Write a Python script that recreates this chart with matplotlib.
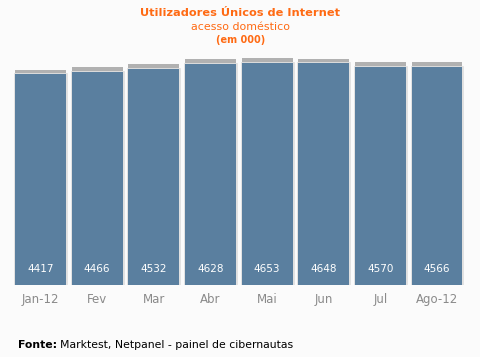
import matplotlib
matplotlib.use('Agg')
from matplotlib import pyplot as plt
from matplotlib import patheffects as pe

# Data
months = ['Jan-12', 'Fev', 'Mar', 'Abr', 'Mai', 'Jun', 'Jul', 'Ago-12']
users = [4417, 4466, 4532, 4628, 4653, 4648, 4570, 4566]

bg = '#fbfbfb'
bar_color = '#5a7f9f'
orange = '#ff6a13'

plt.rcParams['font.family'] = ['DejaVu Sans']

fig = plt.figure(figsize=(4.81, 3.57), dpi=100, facecolor=bg)
ax = fig.add_axes([0.0254, 0.2017, 0.942, 0.669])
ax.set_facecolor(bg)

x = list(range(len(months)))
bars = ax.bar(x, users, width=0.9, color=bar_color, zorder=3)

# Soft gray shadow around the bars
for b in bars:
    b.set_path_effects([
        pe.SimplePatchShadow(offset=(0, 3.2), shadow_rgbFace='#a4a4a4', alpha=0.85),
        pe.Stroke(linewidth=2, foreground='#e0e0e0'),
        pe.Normal(),
    ])

# Values at the bottom of the bars
for xi, v in zip(x, users):
    ax.annotate(str(v), xy=(xi, 0), xytext=(0, 8), textcoords='offset points',
                ha='center', va='bottom', color='white', fontsize=7.5, zorder=4)

ax.set_xlim(-0.5, len(months) - 0.5)
ax.set_ylim(0, 5000)
ax.set_xticks(x)
ax.set_xticklabels(months, fontsize=8.5, color='#8a8a8a')
ax.tick_params(axis='x', length=0, pad=6)
ax.set_yticks([])
for s in ax.spines.values():
    s.set_visible(False)

# Titles
fig.text(0.5, 1 - 13 / 357, 'Utilizadores Únicos de Internet', ha='center', va='center',
         fontsize=8.2, fontweight='bold', color=orange)
fig.text(0.5, 1 - 27 / 357, 'acesso doméstico', ha='center', va='center',
         fontsize=7.9, color=orange)
fig.text(0.5, 1 - 40 / 357, '(em 000)', ha='center', va='center',
         fontsize=7, fontweight='bold', color=orange)

# Source
src = fig.text(18 / 481, 1 - 345 / 357, 'Fonte:', ha='left', va='center',
               fontsize=7.8, fontweight='bold', color='black')
fig.canvas.draw()
bb = src.get_window_extent()
fig.text(bb.x1 / 481 + 0.005, 1 - 345 / 357, 'Marktest, Netpanel - painel de cibernautas',
         ha='left', va='center', fontsize=7.8, color='black')

fig.savefig('out.png', dpi=100, facecolor=bg)
